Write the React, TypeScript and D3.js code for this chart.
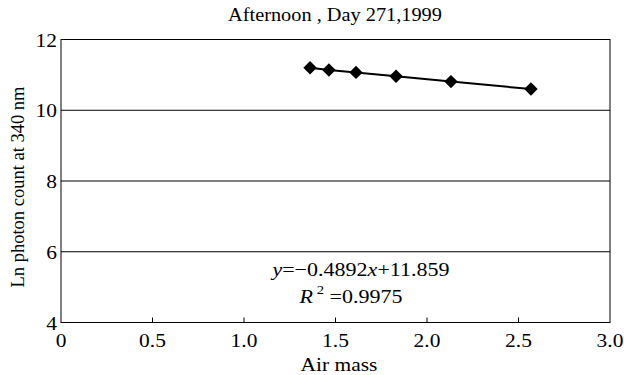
import React from "react";
import * as d3 from "d3";

const airMass = [1.361, 1.464, 1.612, 1.831, 2.131, 2.568];
const lnCount = [11.2, 11.14, 11.07, 10.96, 10.81, 10.6];
const xTicks = [0, 0.5, 1.0, 1.5, 2.0, 2.5, 3.0];
const yTicks = [4, 6, 8, 10, 12];
const titleText = "Afternoon , Day 271,1999";
const xLabel = "Air mass";
const yLabel = "Ln photon count at 340 nm";

const SX = 1.13;

function HText({ x, y, anchor = "middle", size, children }: any) {
  return (
    <g transform={`translate(${x},${y}) scale(${SX},1)`}>
      <text x={0} y={0} textAnchor={anchor} fontSize={size}>{children}</text>
    </g>
  );
}

export default function App() {
  const W = 624, H = 375;
  const L = 61, R = 610, T = 39.5, B = 322.5;
  const x = d3.scaleLinear().domain([0, 3]).range([L, R]);
  const y = d3.scaleLinear().domain([4, 12]).range([B, T]);
  const pts = airMass.map((a, i) => [a, lnCount[i]] as [number, number]);
  const line = d3.line<[number, number]>().x(d => x(d[0])).y(d => y(d[1]));
  const font = "Liberation Serif, Times New Roman, DejaVu Serif, serif";
  const diamond = d3.symbol().type(d3.symbolDiamond2 ?? d3.symbolDiamond).size(115)();
  return (
    <svg width={W} height={H} style={{ position: "absolute", left: 0, top: 0, fontFamily: font }}>
      <rect width={W} height={H} fill="#fff" />
      <HText x={335} y={21} size={18}>{titleText}</HText>
      {yTicks.filter(t => t !== 4 && t !== 12).map(t => (
        <line key={t} x1={L} x2={R} y1={y(t)} y2={y(t)} stroke="#000" strokeWidth={1} />
      ))}
      <rect x={L} y={T} width={R - L} height={B - T} fill="none" stroke="#000" strokeWidth={1} />
      {xTicks.slice(1, -1).map(t => (
        <line key={t} x1={x(t)} x2={x(t)} y1={B} y2={B - 5} stroke="#000" strokeWidth={1} />
      ))}
      {xTicks.map(t => (
        <HText key={t} x={x(t)} y={347} size={19}>
          {t === 0 ? "0" : t.toFixed(1)}
        </HText>
      ))}
      {yTicks.map(t => (
        <HText key={t} x={L - 4} y={y(t) + 7} anchor="end" size={19}>{t}</HText>
      ))}
      <HText x={339} y={371} size={19}>{xLabel}</HText>
      <text transform={`translate(24, ${(T + B) / 2 + 6}) rotate(-90)`} textAnchor="middle" fontSize={18.5}>{yLabel}</text>
      <path d={line(pts) || ""} fill="none" stroke="#000" strokeWidth={2} />
      {pts.map((p, i) => (
        <path key={i} d={diamond || ""} transform={`translate(${x(p[0])},${y(p[1])})`} fill="#000" />
      ))}
      <HText x={361} y={276} size={19.5}>
        <tspan fontStyle="italic">y</tspan>=−0.4892<tspan fontStyle="italic">x</tspan>+11.859
      </HText>
      <HText x={351} y={303} size={19.5}>
        <tspan fontStyle="italic">R</tspan><tspan fontSize={13} dy={-9}> 2</tspan><tspan dy={9}> =0.9975</tspan>
      </HText>
    </svg>
  );
}
